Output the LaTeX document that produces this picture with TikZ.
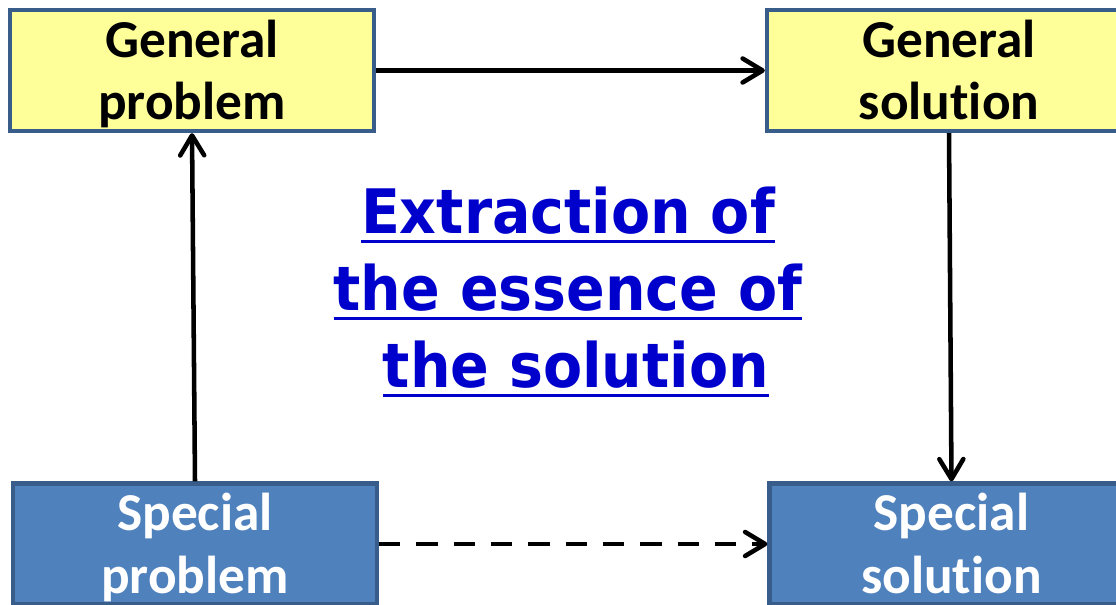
\documentclass[tikz,border=0pt]{standalone}
\usepackage{fontspec}
\usetikzlibrary{arrows.meta}
\newfontfamily\boxfont[Ligatures=NoCommon]{Carlito}
\newfontfamily\ctrfont[FakeStretch=0.93]{DejaVu Sans}
\definecolor{ybox}{HTML}{FFFF99}
\definecolor{bbox}{HTML}{4F81BD}
\definecolor{edgec}{HTML}{385D8A}
\definecolor{ctrblue}{HTML}{0000CC}
\newcommand\myul[1]{\setbox0\hbox{#1}\rlap{\copy0}\rule[-6.7pt]{\wd0}{2.25pt}}
\newcommand\twoline[2]{\smash{\raisebox{10.1pt}{\begin{tabular}[t]{@{}c@{}}#1\\#2\end{tabular}}}}
\tikzset{
  box/.style={draw=edgec, line width=3.2pt, minimum width=273pt, minimum height=90.75pt,
    inner sep=0pt, font=\boxfont\bfseries\fontsize{40}{47}\selectfont},
  genbox/.style={box, fill=ybox, text=black},
  spebox/.style={box, fill=bbox, text=white},
  ctr/.style={inner sep=0pt, text=ctrblue, font=\ctrfont\bfseries\fontsize{46}{57.75}\selectfont},
  arr/.style={line width=3.4pt, -{Straight Barb[length=15pt,width=18pt,round]}},
}
\begin{document}
\begin{tikzpicture}[x=0.75pt, y=-0.75pt]
\useasboundingbox (0,0) rectangle (1116,605);
\clip (0,0) rectangle (1116,605);
\fill[white] (0,0) rectangle (1116,605);
\node[genbox] (gp) at (192,70.5) {\twoline{General}{problem}};
\node[genbox] (gs) at (949,70.5) {\twoline{General}{solution}};
\node[spebox] (sp) at (195,544) {\twoline{Special}{problem}};
\node[spebox] (ss) at (951.5,544) {\twoline{Special}{solution}};
\node[ctr] (ess) at (568,311) {\smash{\raisebox{57.75pt}{\begin{tabular}[t]{@{}c@{}}\myul{Extraction of}\\\myul{the essence of}\\\hspace*{12pt}\myul{the solution}\end{tabular}}}};
\draw[arr] (gp.east) -- (gs.west);
\draw[arr] (sp.north) -- (gp.south);
\draw[arr] (gs.south) -- (ss.north);
\draw[arr, dash pattern=on 16pt off 12pt] (sp.east) -- (ss.west);
\end{tikzpicture}
\end{document}
